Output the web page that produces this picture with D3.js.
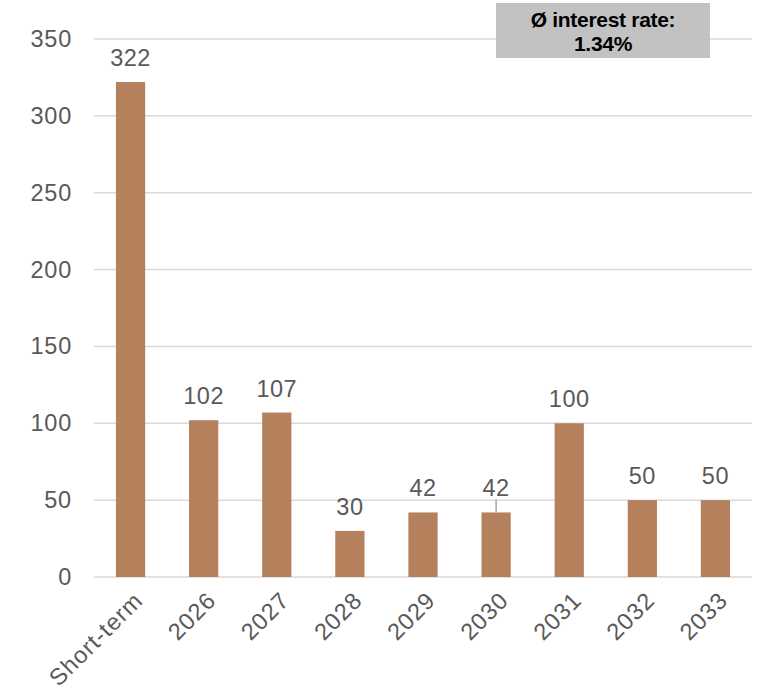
<!DOCTYPE html>
<html>
<head>
<meta charset="utf-8">
<script src="https://cdn.jsdelivr.net/npm/d3@7"></script>
<style>
  html, body { margin: 0; padding: 0; background: #fff; }
  svg { display: block; font-family: "Liberation Sans", Arial, Helvetica, sans-serif; }
</style>
</head>
<body>
<svg id="chart" width="759" height="694"></svg>
<script>
const categories = ["Short-term", "2026", "2027", "2028", "2029", "2030", "2031", "2032", "2033"];
const values = [322, 102, 107, 30, 42, 42, 100, 50, 50];
const yTicks = [0, 50, 100, 150, 200, 250, 300, 350];
const boxLines = ["Ø interest rate:", "1.34%"];

const svg = d3.select("#chart");
const margin = { left: 94, right: 7, top: 39, bottom: 117 };
const W = 759, H = 694;
const FS = 23.5;

const x = d3.scaleBand().domain(categories).range([margin.left, W - margin.right]).paddingInner(0.6).paddingOuter(0.3);
const y = d3.scaleLinear().domain([0, 350]).range([H - margin.bottom, margin.top]);

// gridlines
svg.append("g").selectAll("line").data(yTicks).join("line")
  .attr("x1", margin.left).attr("x2", W - margin.right)
  .attr("y1", d => y(d)).attr("y2", d => y(d))
  .attr("stroke", "#D9D9D9").attr("stroke-width", 1.5);

// y axis labels
const yAxis = d3.axisLeft(y).tickValues(yTicks).tickSize(0).tickPadding(22);
const gy = svg.append("g").attr("transform", `translate(${margin.left},0)`).call(yAxis);
gy.select(".domain").remove();
gy.selectAll("text").attr("font-size", FS).attr("fill", "#595959")
  .attr("font-family", "Liberation Sans, Arial, sans-serif").attr("letter-spacing", 0.8);

// bars
svg.append("g").selectAll("rect").data(values).join("rect")
  .attr("x", (d, i) => x(categories[i]))
  .attr("y", d => y(d))
  .attr("width", x.bandwidth())
  .attr("height", d => y(0) - y(d))
  .attr("fill", "#B5805C");

// leader line for 2030
const i2030 = categories.indexOf("2030");
svg.append("line")
  .attr("x1", x(categories[i2030]) + x.bandwidth() / 2)
  .attr("x2", x(categories[i2030]) + x.bandwidth() / 2)
  .attr("y1", y(values[i2030]) - 13).attr("y2", y(values[i2030]))
  .attr("stroke", "#A6A6A6").attr("stroke-width", 1.5);

// value labels
svg.append("g").selectAll("text").data(values).join("text")
  .attr("x", (d, i) => x(categories[i]) + x.bandwidth() / 2)
  .attr("y", d => y(d) - 16)
  .attr("text-anchor", "middle")
  .attr("font-size", FS).attr("fill", "#595959").attr("letter-spacing", 0.5)
  .text(d => d);

// x axis labels
const xAxis = d3.axisBottom(x).tickSize(0).tickPadding(0);
const gx = svg.append("g").attr("transform", `translate(0,${y(0)})`).call(xAxis);
gx.select(".domain").remove();
gx.selectAll("text")
  .attr("font-size", FS).attr("fill", "#595959").attr("font-family", "Liberation Sans, Arial, sans-serif")
  .attr("letter-spacing", 1.0)
  .attr("text-anchor", "end")
  .attr("dy", "0.35em")
  .attr("transform", "translate(8,19) rotate(-45)");

// interest-rate box
const bx = 496, by = 3, bw = 214, bh = 55;
svg.append("rect").attr("x", bx).attr("y", by).attr("width", bw).attr("height", bh)
  .attr("fill", "#BFBFBF").attr("fill-opacity", 0.95);
svg.append("g").selectAll("text").data(boxLines).join("text")
  .attr("x", bx + bw / 2)
  .attr("y", (d, i) => by + 24 + i * 24)
  .attr("text-anchor", "middle")
  .attr("font-size", 21).attr("font-weight", "bold").attr("fill", "#000")
  .attr("letter-spacing", -0.3)
  .text(d => d);
</script>
</body>
</html>
